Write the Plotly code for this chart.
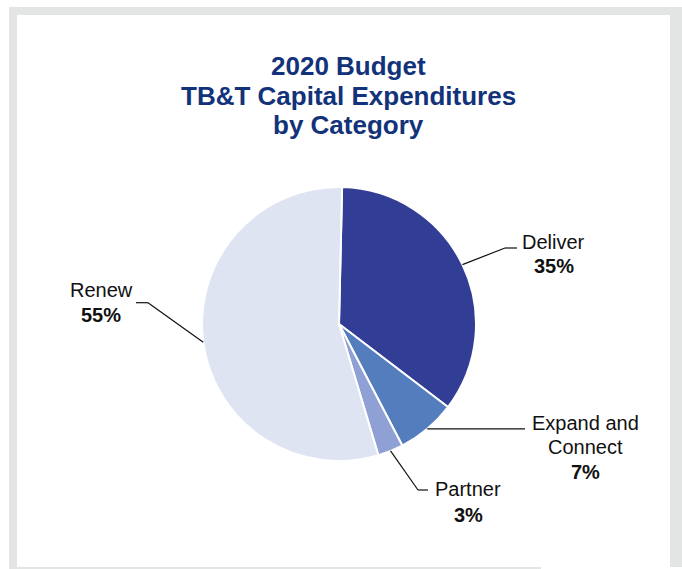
import math
import plotly.graph_objects as go

# Category data
categories = ["Deliver", "Expand and Connect", "Partner", "Renew"]
label_lines = [["Deliver"], ["Expand and", "Connect"], ["Partner"], ["Renew"]]
shares = [35, 7, 3, 55]
slice_colors = ["#323d96", "#547dbe", "#8fa0d4", "#dee4f2"]

title_lines = ["2020 Budget", "TB&T Capital Expenditures", "by Category"]

W, H = 682, 569
CX, CY, R = 339, 324, 137
ROTATION = 1.3
FONT = "Arial, Liberation Sans, sans-serif"


def px(x):
    return x / W


def py(y):
    return 1 - y / H


fig = go.Figure(
    go.Pie(
        labels=categories,
        values=shares,
        sort=False,
        direction="clockwise",
        rotation=ROTATION,
        textinfo="none",
        hoverinfo="label+percent",
        marker=dict(colors=slice_colors, line=dict(color="white", width=2)),
        domain=dict(x=[px(CX - R), px(CX + R)], y=[py(CY + R), py(CY - R)]),
        showlegend=False,
    )
)

# Frame around the panel
shapes = [
    dict(type="rect", xref="paper", yref="paper", x0=px(9), x1=px(682), y0=py(569), y1=py(7),
         fillcolor="#e3e4e4", line=dict(width=0), layer="below"),
    dict(type="rect", xref="paper", yref="paper", x0=px(17), x1=px(670), y0=py(567), y1=py(15),
         fillcolor="white", line=dict(width=0), layer="below"),
    dict(type="rect", xref="paper", yref="paper", x0=px(541), x1=px(682), y0=py(569), y1=py(567),
         fillcolor="white", line=dict(width=0), layer="below"),
]

# Leader-line elbows and label positions (pixels)
elbows = [
    [(505, 248), (517, 248)],
    [(525, None)],
    [(418, 490), (428, 490)],
    [(148, 302.7), (136, 302.7)],
]
label_pos = [
    (553.7, [241.7], 265.8),
    (585.8, [423.3, 447.0], 472.0),
    (468.2, [489.2], 515.0),
    (101.0, [290.0], 314.7),
]

annotations = []
total = sum(shares)
start = ROTATION
for i, v in enumerate(shares):
    span = 360 * v / total
    mid = math.radians(start + span / 2)
    start += span
    sx = CX + R * math.sin(mid)
    sy = CY - R * math.cos(mid)
    pts = [(sx, sy)] + [(ex, sy if ey is None else ey) for ex, ey in elbows[i]]
    for (x0, y0), (x1, y1) in zip(pts[:-1], pts[1:]):
        shapes.append(dict(type="line", xref="paper", yref="paper",
                           x0=px(x0), y0=py(y0), x1=px(x1), y1=py(y1),
                           line=dict(color="#111111", width=1.2)))
    lx, ys, pct_y = label_pos[i]
    for text, y in zip(label_lines[i], ys):
        annotations.append(dict(x=px(lx), y=py(y), xref="paper", yref="paper",
                                text=text, showarrow=False, xanchor="center", yanchor="middle",
                                font=dict(family=FONT, size=20, color="#111111")))
    annotations.append(dict(x=px(lx), y=py(pct_y), xref="paper", yref="paper",
                            text=f"<b>{v}%</b>", showarrow=False, xanchor="center", yanchor="middle",
                            font=dict(family=FONT, size=20, color="#111111")))

for text, y in zip(title_lines, [66, 95.5, 125]):
    annotations.append(dict(x=px(348), y=py(y), xref="paper", yref="paper",
                            text=f"<b>{text}</b>", showarrow=False, xanchor="center", yanchor="middle",
                            font=dict(family=FONT, size=26, color="#12327a")))

fig.update_layout(
    width=W, height=H,
    margin=dict(l=0, r=0, t=0, b=0),
    paper_bgcolor="white",
    plot_bgcolor="white",
    shapes=shapes,
    annotations=annotations,
)

fig.write_html("out.html", config={"displayModeBar": False})
